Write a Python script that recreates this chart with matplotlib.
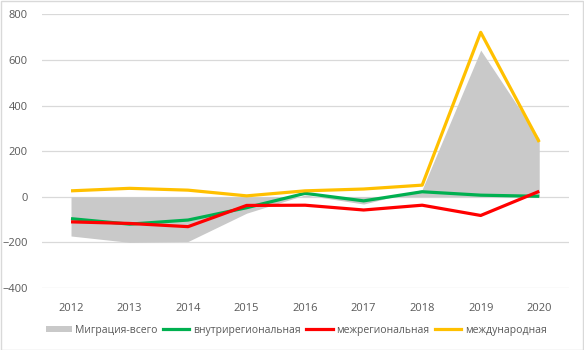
import matplotlib
matplotlib.use("Agg")
import matplotlib.pyplot as plt
from matplotlib.patches import Patch, Rectangle
from matplotlib.lines import Line2D

plt.rcParams['font.family'] = ['Open Sans', 'DejaVu Sans']

years = ["2012", "2013", "2014", "2015", "2016", "2017", "2018", "2019", "2020"]
total = [-172, -200, -196, -72, 8, -32, 32, 643, 255]
intraregional = [-96, -120, -102, -48, 15, -18, 22, 7, 2]
interregional = [-110, -117, -131, -38, -37, -58, -37, -82, 24]
international = [26, 37, 29, 4, 26, 34, 51, 721, 240]

labels = ["Миграция-всего", "внутрирегиональная", "межрегиональная", "международная"]
text_color = "#595959"
grid_color = "#d9d9d9"

fig = plt.figure(figsize=(5.84, 3.5), dpi=100)
ax = fig.add_axes([41.75 / 584, 1 - 288 / 350, (568.5 - 41.75) / 584, (288 - 14.3) / 350])

x = list(range(len(years)))
ax.fill_between(x, total, 0, color="#c9c9c9", linewidth=0, zorder=1)
ax.plot(x, intraregional, color="#00b050", lw=2.3, zorder=3, solid_capstyle="butt")
ax.plot(x, interregional, color="#ff0000", lw=2.3, zorder=4, solid_capstyle="butt")
ax.plot(x, international, color="#ffc000", lw=2.3, zorder=5, solid_capstyle="butt")

ax.set_xlim(-0.5, len(years) - 0.5)
ax.set_ylim(-400, 800)
ax.set_yticks(range(-400, 801, 200))
ax.set_xticks(x)
ax.set_xticklabels(years)
ax.grid(axis="y", color=grid_color, lw=0.9, zorder=0)
ax.set_axisbelow(True)
for s in ax.spines.values():
    s.set_visible(False)
ax.tick_params(length=0, colors=text_color, labelsize=8)
ax.tick_params(axis="x", pad=11)
ax.tick_params(axis="y", pad=10)

handles = [
    Patch(facecolor="#c9c9c9", edgecolor="none"),
    Line2D([], [], color="#00b050", lw=2.3),
    Line2D([], [], color="#ff0000", lw=2.3),
    Line2D([], [], color="#ffc000", lw=2.3),
]
leg = fig.legend(handles, labels, loc="center", bbox_to_anchor=(296 / 584, 1 - 330 / 350),
                 ncol=4, frameon=False, fontsize=7.5, handlelength=2.5, handleheight=0.6,
                 handletextpad=0.35, columnspacing=0.55, labelcolor=text_color)

fig.patches.append(Rectangle((0.5 / 584, 0.5 / 350), 582.5 / 584, 348.5 / 350,
                             transform=fig.transFigure, fill=False,
                             edgecolor=grid_color, lw=1))

fig.savefig("out.png", dpi=100, facecolor="white")
